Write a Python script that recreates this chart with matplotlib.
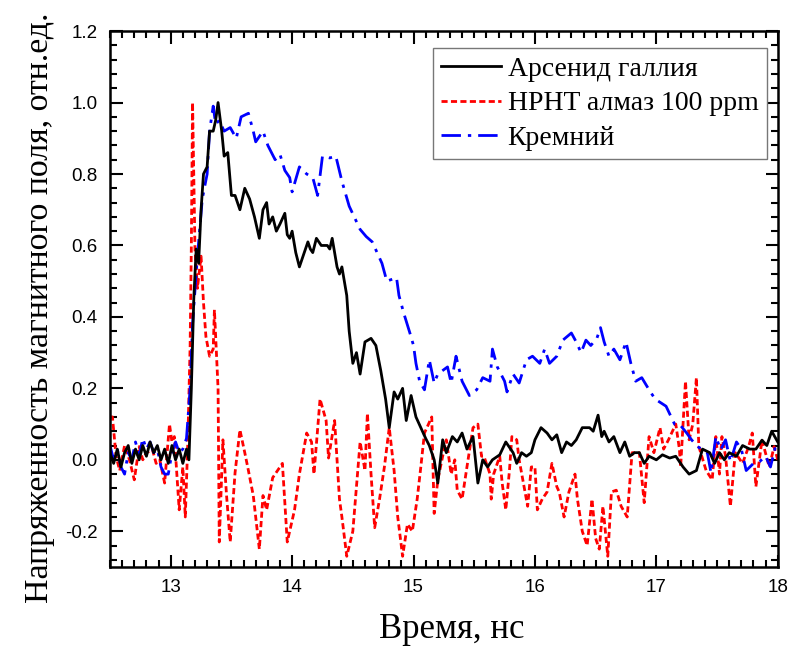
import matplotlib
matplotlib.use("Agg")
import matplotlib.pyplot as plt
from matplotlib.ticker import MultipleLocator

# ---------------- data ----------------
gaas_t = [12.50, 12.53, 12.56, 12.59, 12.62, 12.65, 12.68, 12.71, 12.74, 12.77, 12.80, 12.83, 12.86, 12.89,
          12.92, 12.95, 12.98, 13.01, 13.04, 13.07, 13.10, 13.13, 13.15, 13.17, 13.19, 13.21, 13.23, 13.25,
          13.27, 13.30, 13.32, 13.35, 13.37, 13.39, 13.42, 13.44, 13.47, 13.50, 13.53, 13.57, 13.61, 13.65,
          13.69, 13.73, 13.76, 13.79, 13.81, 13.84, 13.87, 13.90, 13.94, 13.96, 13.98, 14.00, 14.03, 14.06,
          14.10, 14.13, 14.15, 14.17, 14.20, 14.24, 14.29, 14.31, 14.33, 14.37, 14.39, 14.41, 14.45, 14.47,
          14.50, 14.53, 14.56, 14.60, 14.65, 14.69, 14.73, 14.77, 14.80, 14.84, 14.87, 14.91, 14.94, 14.98,
          15.02, 15.06, 15.10, 15.13, 15.17, 15.20, 15.24, 15.27, 15.32, 15.36, 15.40, 15.44, 15.49, 15.53,
          15.57, 15.61, 15.65, 15.71, 15.76, 15.82, 15.85, 15.89, 15.93, 15.97, 16.00, 16.05, 16.10, 16.14,
          16.18, 16.22, 16.26, 16.30, 16.34, 16.39, 16.45, 16.48, 16.52, 16.55, 16.57, 16.61, 16.65, 16.70,
          16.74, 16.78, 16.82, 16.86, 16.90, 16.94, 17.00, 17.05, 17.11, 17.16, 17.22, 17.27, 17.33, 17.38,
          17.44, 17.48, 17.52, 17.56, 17.60, 17.66, 17.71, 17.77, 17.82, 17.87, 17.91, 17.95, 18.00]
gaas_v = [0.02, -0.01, 0.03, -0.02, 0.02, 0.04, -0.01, 0.03, 0.00, 0.04, 0.01, 0.05, 0.02, 0.04,
          0.00, 0.03, -0.01, 0.04, 0.00, 0.03, -0.01, 0.03, 0.00, 0.20, 0.45, 0.59, 0.55, 0.70,
          0.80, 0.82, 0.92, 0.92, 0.95, 1.00, 0.92, 0.85, 0.86, 0.74, 0.74, 0.70, 0.76, 0.73,
          0.68, 0.62, 0.70, 0.72, 0.66, 0.68, 0.64, 0.66, 0.69, 0.63, 0.62, 0.64, 0.58, 0.54,
          0.58, 0.61, 0.59, 0.58, 0.62, 0.60, 0.60, 0.59, 0.62, 0.54, 0.52, 0.54, 0.46, 0.36,
          0.27, 0.30, 0.24, 0.33, 0.34, 0.32, 0.25, 0.17, 0.09, 0.19, 0.17, 0.20, 0.11, 0.18,
          0.12, 0.09, 0.06, 0.04, 0.00, -0.065, 0.056, 0.02, 0.065, 0.05, 0.075, 0.03, 0.065, -0.065,
          0.00, -0.02, 0.00, 0.014, 0.05, 0.02, -0.01, 0.02, 0.01, 0.02, 0.056, 0.09, 0.075, 0.056,
          0.07, 0.02, 0.05, 0.04, 0.056, 0.09, 0.09, 0.08, 0.125, 0.065, 0.08, 0.05, 0.065, 0.02,
          0.05, 0.01, 0.02, 0.02, -0.01, 0.01, 0.00, 0.014, 0.005, 0.01, -0.02, -0.04, -0.03, 0.03,
          0.02, -0.01, 0.02, 0.00, 0.02, 0.01, 0.04, 0.03, 0.03, 0.055, 0.04, 0.08, 0.05]

hpht_t = [12.50, 12.52, 12.55, 12.58, 12.62, 12.66, 12.70, 12.74, 12.77, 12.80, 12.85, 12.88, 12.91, 12.95,
          12.99, 13.01, 13.03, 13.07, 13.10, 13.12, 13.14, 13.16, 13.17, 13.18, 13.20, 13.22, 13.25, 13.27,
          13.29, 13.32, 13.35, 13.36, 13.39, 13.40, 13.43, 13.46, 13.49, 13.53, 13.57, 13.61, 13.64, 13.68,
          13.73, 13.76, 13.79, 13.84, 13.88, 13.92, 13.96, 14.02, 14.06, 14.12, 14.16, 14.18, 14.23, 14.28,
          14.30, 14.35, 14.39, 14.41, 14.45, 14.50, 14.56, 14.60, 14.62, 14.65, 14.68, 14.72, 14.76, 14.80,
          14.84, 14.87, 14.91, 14.95, 14.99, 15.03, 15.06, 15.09, 15.11, 15.15, 15.16, 15.17, 15.20, 15.24,
          15.27, 15.31, 15.34, 15.36, 15.40, 15.44, 15.49, 15.53, 15.56, 15.58, 15.63, 15.64, 15.66, 15.71,
          15.73, 15.76, 15.79, 15.81, 15.85, 15.87, 15.90, 15.94, 15.97, 16.00, 16.02, 16.06, 16.10, 16.14,
          16.18, 16.20, 16.24, 16.28, 16.33, 16.35, 16.39, 16.43, 16.47, 16.50, 16.53, 16.56, 16.60, 16.63,
          16.67, 16.71, 16.76, 16.80, 16.86, 16.90, 16.94, 16.98, 17.03, 17.06, 17.10, 17.16, 17.19, 17.20,
          17.24, 17.27, 17.30, 17.33, 17.35, 17.41, 17.46, 17.49, 17.52, 17.54, 17.57, 17.61, 17.65, 17.71,
          17.76, 17.79, 17.82, 17.87, 17.93, 17.97, 18.00]
hpht_v = [0.12, 0.12, 0.01, -0.03, 0.04, 0.00, -0.056, 0.037, 0.00, 0.02, 0.028, -0.01, 0.00, -0.065,
          0.10, 0.05, 0.065, -0.14, -0.02, -0.16, 0.04, 0.32, 0.60, 1.00, 0.59, 0.48, 0.57, 0.44,
          0.345, 0.29, 0.31, 0.42, 0.20, -0.23, 0.056, -0.10, -0.23, -0.036, 0.084, 0.02, -0.03, -0.10,
          -0.25, -0.10, -0.14, -0.05, -0.03, -0.01, -0.23, -0.14, -0.04, 0.075, 0.05, -0.04, 0.17, 0.11,
          0.005, 0.11, -0.11, -0.16, -0.27, -0.20, 0.05, -0.03, 0.13, -0.04, -0.19, -0.11, -0.02, 0.09,
          -0.03, -0.16, -0.27, -0.18, -0.20, -0.11, -0.02, 0.075, 0.09, 0.12, -0.02, -0.15, -0.056, 0.01,
          0.056, -0.04, 0.00, -0.085, -0.11, -0.02, 0.09, 0.10, 0.01, 0.01, -0.04, -0.11, -0.04, 0.01,
          -0.065, -0.14, -0.03, 0.065, 0.056, 0.00, -0.056, -0.13, -0.02, -0.02, -0.14, -0.11, -0.09, -0.01,
          -0.075, -0.09, -0.16, -0.09, -0.04, -0.11, -0.20, -0.24, -0.11, -0.22, -0.25, -0.13, -0.27, -0.09,
          -0.085, -0.13, -0.16, 0.02, 0.02, -0.12, 0.065, 0.02, 0.09, 0.03, 0.056, 0.10, 0.03, -0.02,
          0.22, 0.056, 0.10, 0.23, 0.037, -0.03, -0.056, 0.065, -0.04, 0.065, 0.01, -0.13, 0.02, -0.01,
          0.037, 0.075, -0.075, 0.056, -0.02, 0.037, 0.00]

si_t = [12.50, 12.53, 12.56, 12.59, 12.62, 12.65, 12.68, 12.71, 12.74, 12.77, 12.80, 12.83, 12.86, 12.89,
        12.92, 12.95, 12.98, 13.01, 13.04, 13.07, 13.10, 13.13, 13.16, 13.18, 13.22, 13.26, 13.30, 13.32,
        13.35, 13.37, 13.40, 13.44, 13.49, 13.54, 13.58, 13.64, 13.68, 13.70, 13.76, 13.80, 13.86, 13.90,
        13.94, 13.98, 14.00, 14.06, 14.12, 14.17, 14.21, 14.25, 14.31, 14.36, 14.41, 14.47, 14.56, 14.61,
        14.66, 14.74, 14.78, 14.86, 14.88, 14.92, 14.97, 15.00, 15.02, 15.05, 15.09, 15.13, 15.17, 15.20,
        15.24, 15.28, 15.31, 15.35, 15.40, 15.46, 15.52, 15.57, 15.63, 15.65, 15.69, 15.75, 15.77, 15.82,
        15.87, 15.93, 15.98, 16.04, 16.08, 16.12, 16.18, 16.23, 16.30, 16.34, 16.38, 16.42, 16.46, 16.51,
        16.54, 16.57, 16.61, 16.65, 16.70, 16.75, 16.79, 16.83, 16.88, 16.94, 16.99, 17.08, 17.15, 17.19,
        17.25, 17.29, 17.34, 17.38, 17.42, 17.45, 17.49, 17.53, 17.57, 17.61, 17.66, 17.70, 17.74, 17.80,
        17.85, 17.90, 17.94, 17.99]
si_v = [0.04, 0.00, 0.03, -0.02, -0.04, 0.02, 0.00, 0.05, 0.01, 0.06, 0.03, 0.05, 0.02, 0.03,
        -0.02, -0.04, -0.04, 0.02, 0.05, 0.02, 0.03, 0.06, 0.20, 0.38, 0.57, 0.73, 0.80, 0.92,
        0.99, 0.94, 0.95, 0.92, 0.93, 0.90, 0.96, 0.97, 0.92, 0.89, 0.92, 0.88, 0.84, 0.855,
        0.81, 0.79, 0.75, 0.82, 0.80, 0.79, 0.74, 0.85, 0.845, 0.85, 0.78, 0.71, 0.645, 0.625,
        0.61, 0.55, 0.50, 0.51, 0.46, 0.41, 0.355, 0.32, 0.27, 0.22, 0.196, 0.28, 0.215, 0.24,
        0.25, 0.26, 0.215, 0.29, 0.22, 0.18, 0.196, 0.23, 0.22, 0.31, 0.26, 0.22, 0.19, 0.24,
        0.215, 0.28, 0.29, 0.27, 0.31, 0.27, 0.29, 0.335, 0.355, 0.33, 0.30, 0.335, 0.32, 0.34,
        0.37, 0.33, 0.29, 0.31, 0.28, 0.33, 0.27, 0.22, 0.23, 0.196, 0.17, 0.15, 0.10, 0.10,
        0.075, 0.056, 0.037, 0.028, 0.02, -0.036, 0.065, 0.028, 0.056, -0.005, 0.05, 0.03, -0.03, -0.01,
        -0.005, 0.01, -0.02, 0.05]

labels = ["Арсенид галлия", "HPHT алмаз 100 ppm", "Кремний"]
x_ticks = [13, 14, 15, 16, 17, 18]
y_ticks = [-0.2, 0.0, 0.2, 0.4, 0.6, 0.8, 1.0, 1.2]

# ---------------- plot ----------------
fig = plt.figure(figsize=(7.88, 6.48), dpi=100)
ax = fig.add_axes([0.1396, 0.125, 0.8474, 0.827])

ax.plot(gaas_t, gaas_v, color="black", lw=2.0, label=labels[0], zorder=3)
ax.plot(hpht_t, hpht_v, color="#ff0000", lw=2.0, ls=(0, (2.2, 1.2)), label=labels[1], zorder=2)
ax.plot(si_t, si_v, color="#0000ff", lw=2.0, ls=(0, (7.0, 2.5, 1.2, 2.5)), label=labels[2], zorder=2)

ax.set_xlim(12.5, 18.0)
ax.set_ylim(-0.3, 1.2)
ax.set_xticks(x_ticks)
ax.set_yticks(y_ticks)
ax.set_yticklabels([f"{v:.1f}" for v in y_ticks])
ax.xaxis.set_minor_locator(MultipleLocator(0.1))
ax.yaxis.set_minor_locator(MultipleLocator(0.04))
ax.tick_params(which="both", direction="in", top=True, right=True, width=1.5)
ax.tick_params(which="major", length=9, labelsize=13.5, pad=9)
ax.tick_params(which="minor", length=5)
for lab in ax.get_xticklabels() + ax.get_yticklabels():
    lab.set_family("Liberation Sans")
for sp in ax.spines.values():
    sp.set_linewidth(1.8)

ax.set_xlabel("Время, нс", family="Liberation Serif", fontsize=25)
ax.xaxis.set_label_coords(0.512, -0.085)
ax.set_ylabel("Напряженность магнитного поля, отн.ед.", family="Liberation Serif", fontsize=24.4)
ax.yaxis.set_label_coords(-0.083, 0.484)

leg = ax.legend(loc="upper right", bbox_to_anchor=(0.9835, 0.968),
                prop={"family": "Liberation Serif", "size": 20},
                fancybox=False, framealpha=1, edgecolor="#777777", handlelength=2.15,
                borderpad=0.3, labelspacing=0.32, handletextpad=0.25, borderaxespad=0.0)
leg.get_frame().set_linewidth(1.0)

fig.savefig("out.png", dpi=100)
